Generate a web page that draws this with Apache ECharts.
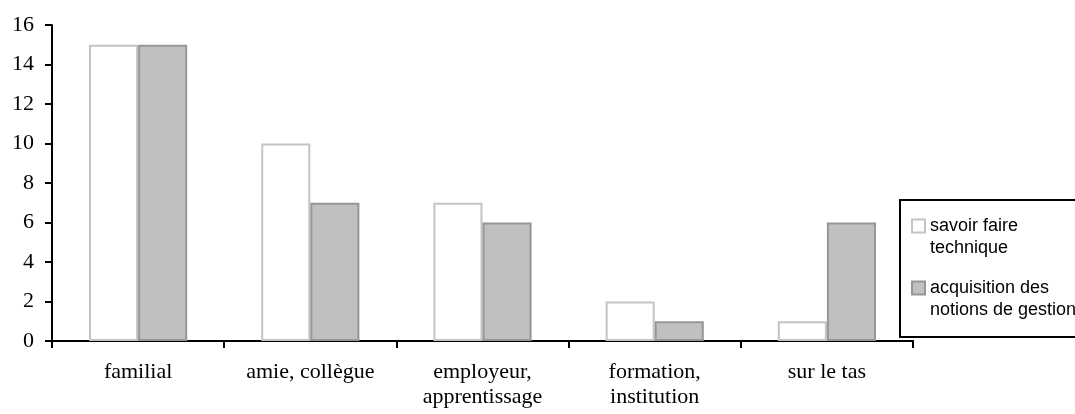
<!DOCTYPE html>
<html>
<head>
<meta charset="utf-8">
<script src="https://cdn.jsdelivr.net/npm/echarts@6/dist/echarts.min.js"></script>
<style>
html,body{margin:0;padding:0;background:#fff;}
#chart{width:1075px;height:414px;}
</style>
</head>
<body>
<div id="chart"></div>
<script>
const categories = ['familial', 'amie, collègue', 'employeur,\napprentissage', 'formation,\ninstitution', 'sur le tas'];
const seriesNames = ['savoir faire technique', 'acquisition des notions de gestion'];
const legendLabels = ['savoir faire\ntechnique', 'acquisition des\nnotions de gestion'];
const savoirFaire = [15, 10, 7, 2, 1];
const acquisition = [15, 7, 6, 1, 6];
const yTicks = { min: 0, max: 16, interval: 2 };

const chart = echarts.init(document.getElementById('chart'));
const legendIcon = 'path://M0,0L13,0L13,13L0,13Z M0,35';
chart.setOption({
  animation: false,
  backgroundColor: '#ffffff',
  grid: { left: 52, right: 162, top: 25, bottom: 73, containLabel: false },
  legend: {
    orient: 'vertical',
    left: 900,
    top: 200,
    padding: [15, 20, 16, 11],
    itemGap: 18,
    itemWidth: 13,
    itemHeight: 35,
    backgroundColor: '#ffffff',
    borderColor: '#000000',
    borderWidth: 2,
    data: seriesNames.map(n => ({ name: n, icon: legendIcon })),
    formatter: function (name) { return legendLabels[seriesNames.indexOf(name)]; },
    textStyle: { fontFamily: 'Liberation Sans, Arial, sans-serif', fontSize: 18, color: '#000', lineHeight: 22 }
  },
  xAxis: {
    type: 'category',
    data: categories,
    axisLine: { lineStyle: { color: '#000', width: 2 } },
    axisTick: { show: true, length: 7, lineStyle: { color: '#000', width: 2 } },
    axisLabel: { margin: 19, color: '#000', fontFamily: 'Liberation Serif, Times New Roman, serif', fontSize: 22, lineHeight: 25 },
    splitLine: { show: false }
  },
  yAxis: {
    type: 'value',
    min: yTicks.min, max: yTicks.max, interval: yTicks.interval,
    axisLine: { show: true, lineStyle: { color: '#000', width: 2 } },
    axisTick: { show: true, length: 7, lineStyle: { color: '#000', width: 2 } },
    axisLabel: { margin: 18, color: '#000', fontFamily: 'Liberation Serif, Times New Roman, serif', fontSize: 22 },
    splitLine: { show: false }
  },
  series: [
    {
      name: seriesNames[0], type: 'bar', data: savoirFaire,
      barGap: '0%', barCategoryGap: '43%',
      itemStyle: { color: '#ffffff', borderColor: '#c4c4c4', borderWidth: 2 }
    },
    {
      name: seriesNames[1], type: 'bar', data: acquisition,
      barGap: '0%', barCategoryGap: '43%',
      itemStyle: { color: '#c0c0c0', borderColor: '#969696', borderWidth: 2 }
    }
  ]
});
</script>
</body>
</html>
